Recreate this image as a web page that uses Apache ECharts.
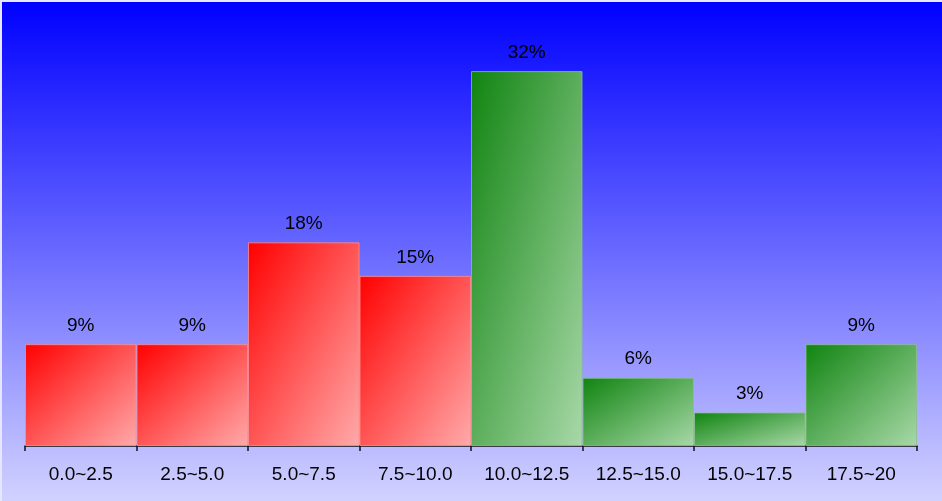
<!DOCTYPE html>
<html>
<head>
<meta charset="utf-8">
<script src="https://cdn.jsdelivr.net/npm/echarts@6/dist/echarts.min.js"></script>
<style>
    html, body {
        margin: 0;
        padding: 0;
        background: #e6e6ff;
    }

    /* 图表容器，左上留一条浅色边 */
    #main {
        margin-left: 2px;
        margin-top: 2px;
        width: 940px;
        height: 499px;
    }
</style>
</head>
<body>
<div id="main"></div>
<script>
    // 分组区间
    var categories = ['0.0~2.5', '2.5~5.0', '5.0~7.5', '7.5~10.0', '10.0~12.5', '12.5~15.0', '15.0~17.5', '17.5~20'];
    // 各区间占比 (%)
    var percents = [8.8, 8.8, 17.6, 14.7, 32.4, 5.9, 2.9, 8.8];
    // 前四个是红色，后面是绿色
    var isRed = [true, true, true, true, false, false, false, false];

    var redColors = ['#ff0000', '#ffaaaa'];
    var greenColors = ['#108410', '#a8d8a8'];

    var chart = echarts.init(document.getElementById('main'));

    // 渐变：等色线平行于柱子的反对角线
    function barGradient(i, w, h) {
        var c = isRed[i] ? redColors : greenColors;
        var s = w * w + h * h;
        return new echarts.graphic.LinearGradient(0, 0, 2 * h * h / s, 2 * w * w / s, [
            { offset: 0, color: c[0] },
            { offset: 1, color: c[1] }
        ]);
    }

    function buildData(sizes) {
        return percents.map(function (v, i) {
            var sz = sizes ? sizes[i] : [1, 1];
            return {
                value: v,
                itemStyle: {
                    color: barGradient(i, sz[0], sz[1]),
                    borderColor: isRed[i] ? 'rgba(255,140,140,0.8)' : 'rgba(140,190,140,0.8)',
                    borderWidth: 1
                }
            };
        });
    }

    var option = {
        animation: false,
        backgroundColor: new echarts.graphic.LinearGradient(0, 0, 0, 1, [
            { offset: 0, color: '#0000ff' },
            { offset: 1, color: '#d2d2ff' }
        ]),
        grid: { left: 23, right: 25, top: 39, bottom: 55 },
        xAxis: {
            type: 'category',
            data: categories,
            axisLine: { lineStyle: { color: '#111', width: 1.5 } },
            axisTick: { show: true, length: 5, lineStyle: { color: '#111', width: 1.5 } },
            axisLabel: {
                color: '#000',
                fontSize: 19,
                fontFamily: 'Liberation Sans, Arial, sans-serif',
                margin: 19
            }
        },
        yAxis: {
            type: 'value',
            min: 0,
            max: 35,
            show: false
        },
        series: [{
            type: 'bar',
            barCategoryGap: 0,
            data: buildData(null),
            label: {
                show: true,
                position: 'top',
                distance: 9,
                color: '#000',
                fontSize: 19,
                fontFamily: 'Liberation Sans, Arial, sans-serif',
                formatter: function (p) {
                    return Math.round(p.value) + '%';
                }
            }
        }]
    };
    chart.setOption(option);

    // 用实际像素尺寸重新算渐变方向
    var sizes = percents.map(function (v, i) {
        var p0 = chart.convertToPixel({ gridIndex: 0 }, [i, 0]);
        var p1 = chart.convertToPixel({ gridIndex: 0 }, [i, v]);
        var bw = chart.getModel().getComponent('xAxis', 0).axis.getBandWidth();
        return [bw, Math.abs(p0[1] - p1[1])];
    });
    chart.setOption({ series: [{ data: buildData(sizes) }] });
</script>
</body>
</html>
